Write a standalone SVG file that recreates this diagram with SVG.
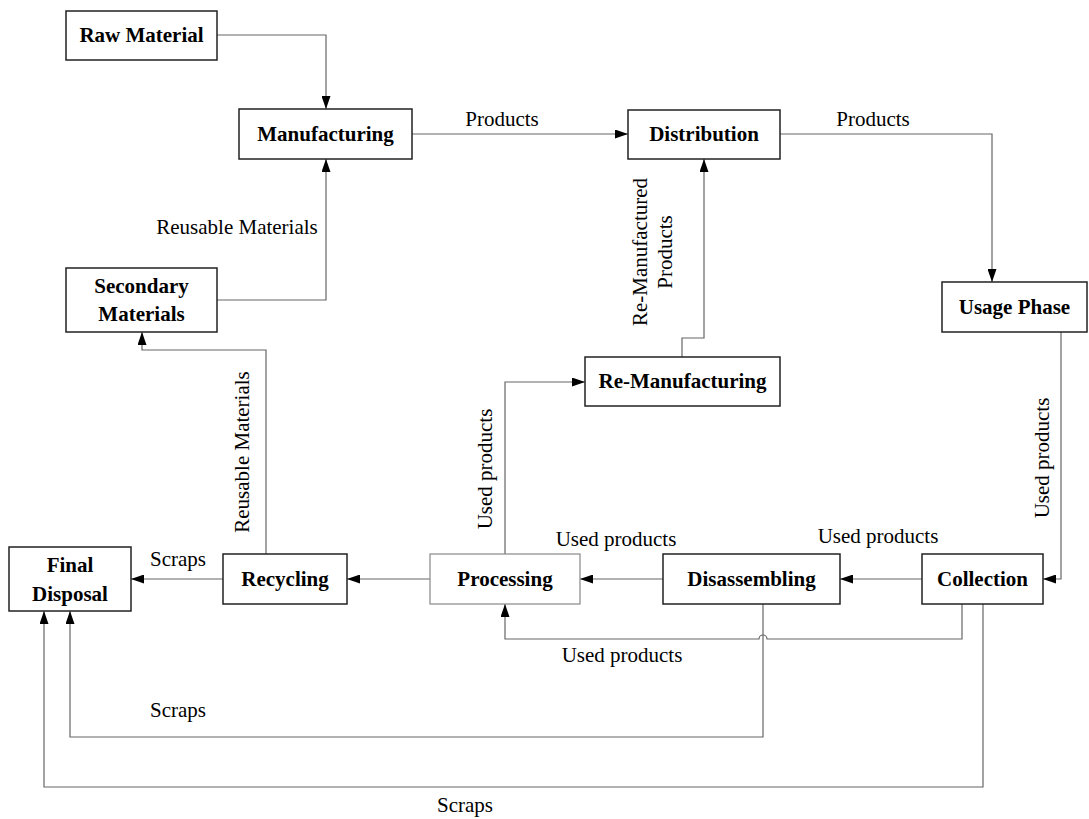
<svg xmlns="http://www.w3.org/2000/svg" width="1089" height="819" viewBox="0 0 1089 819">
<style>
.box{fill:#fff;stroke:#222;stroke-width:1.5}
.box2{fill:#fff;stroke:#888;stroke-width:1.2}
.nt{font-family:"Liberation Serif","Times New Roman",serif;font-weight:bold;font-size:21px;fill:#000;text-anchor:middle}
.lb{font-family:"Liberation Serif","Times New Roman",serif;font-size:21px;fill:#000;text-anchor:middle}
.cn{fill:none;stroke:#666;stroke-width:1.2}
</style>
<defs>
<marker id="ar" viewBox="0 0 13 9" refX="13" refY="4.5" markerWidth="13" markerHeight="9" markerUnits="userSpaceOnUse" orient="auto">
<path d="M0,0 L13,4.5 L0,9 Z" fill="#000"/>
</marker>
</defs>
<g id="connectors">
<path class="cn" d="M217,35 H326 V109" marker-end="url(#ar)"/>
<path class="cn" d="M412,134 H628" marker-end="url(#ar)"/>
<path class="cn" d="M780,134 H992 V282" marker-end="url(#ar)"/>
<path class="cn" d="M1061,332 V579 H1043" marker-end="url(#ar)"/>
<path class="cn" d="M922,579 H840" marker-end="url(#ar)"/>
<path class="cn" d="M663,579 H580" marker-end="url(#ar)"/>
<path class="cn" d="M430,579 H347" marker-end="url(#ar)"/>
<path class="cn" d="M223,579 H131" marker-end="url(#ar)"/>
<path class="cn" d="M266,554 V350 H142 V332" marker-end="url(#ar)"/>
<path class="cn" d="M217,300 H326 V159" marker-end="url(#ar)"/>
<path class="cn" d="M505,554 V382 H585" marker-end="url(#ar)"/>
<path class="cn" d="M682,357 V338 H704 V159" marker-end="url(#ar)"/>
<path class="cn" d="M962,604 V639 H767 A4,4 0 0 0 759,639 H505 V604" marker-end="url(#ar)"/>
<path class="cn" d="M763,604 V737 H70 V611" marker-end="url(#ar)"/>
<path class="cn" d="M983,604 V787 H44 V611" marker-end="url(#ar)"/>
</g>
<g id="labels">
<text class="lb" x="502" y="126">Products</text>
<text class="lb" x="873" y="126">Products</text>
<text class="lb" x="237" y="234">Reusable Materials</text>
<text class="lb" transform="translate(647,252) rotate(-90)">Re-Manufactured</text>
<text class="lb" transform="translate(672,252) rotate(-90)">Products</text>
<text class="lb" transform="translate(249,452) rotate(-90)">Reusable Materials</text>
<text class="lb" transform="translate(492,469) rotate(-90)">Used products</text>
<text class="lb" transform="translate(1049,458) rotate(-90)">Used products</text>
<text class="lb" x="178" y="566">Scraps</text>
<text class="lb" x="616" y="546">Used products</text>
<text class="lb" x="878" y="543">Used products</text>
<text class="lb" x="622" y="662">Used products</text>
<text class="lb" x="178" y="717">Scraps</text>
<text class="lb" x="465" y="812">Scraps</text>
</g>
<g id="raw-material"><rect class="box" x="66" y="11" width="151" height="49"/><text class="nt" x="141.5" y="42">Raw Material</text></g>
<g id="manufacturing"><rect class="box" x="239" y="109" width="173" height="50"/><text class="nt" x="325.5" y="141">Manufacturing</text></g>
<g id="distribution"><rect class="box" x="628" y="110" width="152" height="49"/><text class="nt" x="704" y="141">Distribution</text></g>
<g id="usage-phase"><rect class="box" x="942" y="282" width="145" height="50"/><text class="nt" x="1014.5" y="314">Usage Phase</text></g>
<g id="secondary-materials"><rect class="box" x="66" y="268" width="151" height="64"/><text class="nt" x="141.5" y="293">Secondary</text><text class="nt" x="141.5" y="321">Materials</text></g>
<g id="re-manufacturing"><rect class="box" x="585" y="357" width="195" height="49"/><text class="nt" x="682.5" y="388">Re-Manufacturing</text></g>
<g id="final-disposal"><rect class="box" x="9" y="547" width="122" height="64"/><text class="nt" x="70" y="572">Final</text><text class="nt" x="70" y="601">Disposal</text></g>
<g id="recycling"><rect class="box" x="223" y="554" width="124" height="50"/><text class="nt" x="285" y="586">Recycling</text></g>
<g id="processing"><rect class="box2" x="430" y="554" width="150" height="50"/><text class="nt" x="505" y="586">Processing</text></g>
<g id="disassembling"><rect class="box" x="663" y="554" width="177" height="50"/><text class="nt" x="751.5" y="586">Disassembling</text></g>
<g id="collection"><rect class="box" x="922" y="554" width="121" height="50"/><text class="nt" x="982.5" y="586">Collection</text></g>
</svg>
